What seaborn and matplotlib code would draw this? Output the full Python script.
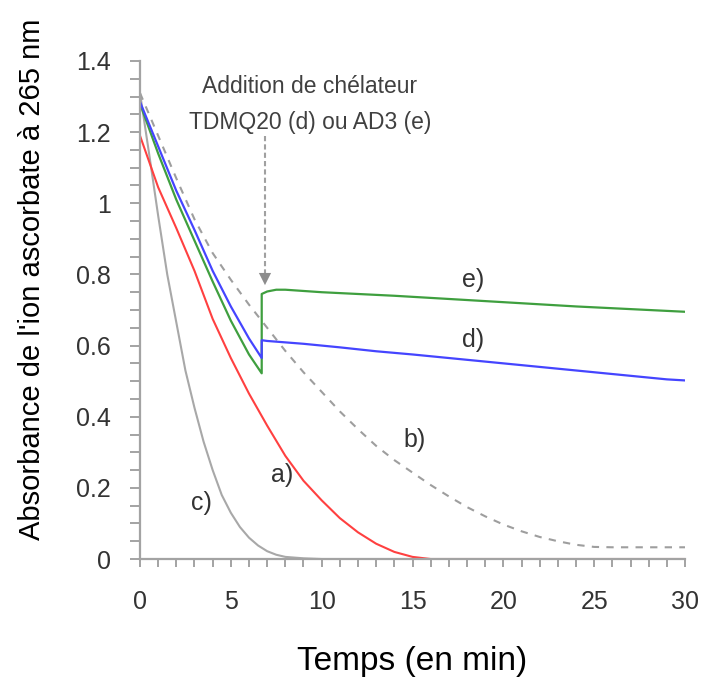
import numpy as np
import pandas as pd
import seaborn as sns
import matplotlib.pyplot as plt
from matplotlib.ticker import MultipleLocator, FuncFormatter

# values (absorbance at 265 nm vs time in min)
t_a = [0, 1, 2, 3, 4, 5, 6, 7, 8, 9, 10, 11, 12, 13, 14, 15, 16, 20, 25, 30]
abs_a = [1.19, 1.045, 0.93, 0.81, 0.675, 0.565, 0.465, 0.375, 0.29, 0.22,
         0.165, 0.115, 0.075, 0.043, 0.02, 0.006, 0.0, 0.0, 0.0, 0.0]

t_b = list(range(0, 31))
abs_b = [1.31, 1.19, 1.07, 0.955, 0.86, 0.785, 0.715, 0.65, 0.585, 0.525,
         0.47, 0.415, 0.365, 0.318, 0.278, 0.243, 0.208, 0.176, 0.146, 0.12,
         0.097, 0.078, 0.062, 0.05, 0.04, 0.034, 0.033, 0.033, 0.033, 0.033, 0.033]

t_c = [0, 0.5, 1, 1.5, 2, 2.5, 3, 3.5, 4, 4.5, 5, 5.5, 6, 6.5, 7, 7.5, 8, 9,
       10, 15, 20, 25, 30]
abs_c = [1.31, 1.14, 0.965, 0.80, 0.665, 0.53, 0.425, 0.33, 0.25, 0.18, 0.13,
         0.09, 0.06, 0.038, 0.022, 0.012, 0.006, 0.002, 0.0, 0.0, 0.0, 0.0, 0.0]

t_d = [0, 1, 2, 3, 4, 5, 6, 6.7, 6.7, 7, 9, 11, 13, 15, 17, 19, 21, 23, 25,
       27, 29, 30]
abs_d = [1.285, 1.16, 1.035, 0.925, 0.81, 0.71, 0.62, 0.565, 0.615, 0.613,
         0.605, 0.595, 0.584, 0.575, 0.565, 0.555, 0.545, 0.535, 0.525, 0.515,
         0.505, 0.502]

t_e = [0, 1, 2, 3, 4, 5, 6, 6.7, 6.7, 7, 7.5, 8, 10, 12, 14, 16, 18, 20, 22,
       24, 26, 28, 30]
abs_e = [1.28, 1.14, 1.01, 0.895, 0.78, 0.67, 0.575, 0.522, 0.745, 0.752,
         0.757, 0.757, 0.75, 0.745, 0.74, 0.734, 0.728, 0.722, 0.716, 0.71,
         0.705, 0.7, 0.695]

curve_labels = ['a)', 'b)', 'c)', 'd)', 'e)']
label_pos = [(7.8, 0.236), (15.1, 0.335), (3.4, 0.157), (18.35, 0.616), (18.35, 0.784)]

sns.set_theme(style='ticks')
plt.rcParams['font.family'] = ['Liberation Sans', 'DejaVu Sans']

gray = '#a3a3a3'
fig = plt.figure(figsize=(7.01, 6.79), dpi=100)
ax = fig.add_axes([0.1997, 0.1767, 0.7775, 0.7335])

sns.lineplot(x=t_c, y=abs_c, ax=ax, color='#a8a8a8', lw=1.5, estimator=None, sort=False)
sns.lineplot(x=t_b, y=abs_b, ax=ax, color='#9e9e9e', lw=1.5, estimator=None, sort=False,
             linestyle=(0, (3.5, 3.5)))
sns.lineplot(x=t_a, y=abs_a, ax=ax, color='#ff4040', lw=1.5, estimator=None, sort=False)
sns.lineplot(x=t_e, y=abs_e, ax=ax, color='#3f9f3f', lw=1.6, estimator=None, sort=False)
sns.lineplot(x=t_d, y=abs_d, ax=ax, color='#4545ff', lw=1.6, estimator=None, sort=False)

for lab, (lx, ly) in zip(curve_labels, label_pos):
    ax.text(lx, ly, lab, fontsize=18, color='#333333', ha='center', va='center')

# chelator addition annotation
ax.plot([6.88, 6.88], [1.19, 0.80], color='#a0a0a0', lw=1.5, linestyle=(0, (2.5, 1.5)))
ax.annotate('', xy=(6.88, 0.762), xytext=(6.88, 0.81),
            arrowprops=dict(arrowstyle='-|>', color='#8c8c8c', lw=0, mutation_scale=22))
ax.text(9.36, 1.328, 'Addition de chélateur', ha='center', va='center', fontsize=16.5,
        color='#404040')
ax.text(9.36, 1.227, 'TDMQ20 (d) ou AD3 (e)', ha='center', va='center', fontsize=16.5,
        color='#404040')

ax.set_xlim(0, 30)
ax.set_ylim(0, 1.4)
ax.xaxis.set_major_locator(MultipleLocator(5))
ax.xaxis.set_minor_locator(MultipleLocator(1))
ax.yaxis.set_major_locator(MultipleLocator(0.2))
ax.yaxis.set_minor_locator(MultipleLocator(0.05))
ax.yaxis.set_major_formatter(FuncFormatter(lambda v, p: f'{v:g}'))

sns.despine(ax=ax)
for s in ['left', 'bottom']:
    ax.spines[s].set_color(gray)
    ax.spines[s].set_linewidth(1.6)
ax.tick_params(axis='both', which='both', color=gray, width=1.4, labelcolor='#333333',
               labelsize=18)
ax.tick_params(axis='y', which='both', length=7, pad=14)
ax.tick_params(axis='x', which='both', length=6, pad=16)

ax.set_xlabel('Temps (en min)', fontsize=24, color='black')
ax.set_ylabel("Absorbance de l'ion ascorbate à 265 nm", fontsize=21, color='black')
ax.xaxis.set_label_coords(0.5, -0.175)
ax.yaxis.set_label_coords(-0.172, 0.562)

fig.savefig('out.png', dpi=100)
